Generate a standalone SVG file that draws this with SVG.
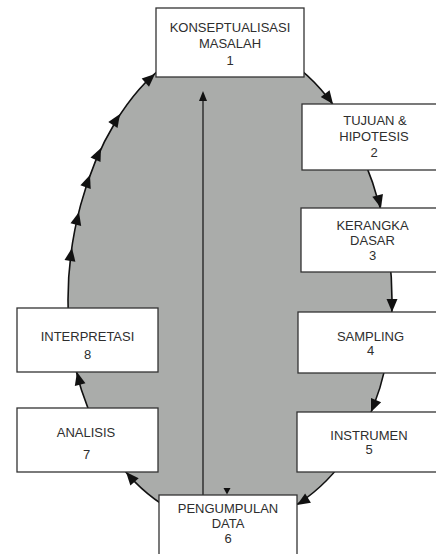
<svg xmlns="http://www.w3.org/2000/svg" width="436" height="554" viewBox="0 0 436 554">
<style>
.box{fill:#ffffff;stroke:#333333;stroke-width:1.3}
.lbl{font-family:"Liberation Sans",Arial,sans-serif;font-size:13px;fill:#2e2e2e;text-anchor:middle}
.ring{fill:#aaacaa;stroke:#111111;stroke-width:1.6}
.ln{stroke:#111111;stroke-width:1.2;fill:none}
.ah{fill:#111111}
</style>
<defs>
<path id="ah" d="M0,0 L-13,-5.5 L-13,5.5 Z"/>
<path id="ahs" d="M0,0 L-10,-4 L-10,4 Z"/>
</defs>
<rect width="436" height="554" fill="#ffffff"/>
<g id="connectors">
<path class="ring" d="M230,42 C320,42 392,170 392,300 C394,425 318,525 228,525 C146,525 68,430 68,300 C68,170 140,42 230,42 Z"/>
<line class="ln" x1="203" y1="495" x2="203" y2="96"/>
<use href="#ahs" class="ah" transform="translate(203,91) rotate(-90)"/>
<path class="ah" d="M223.5,488 L230.5,488 L227,494.5 Z"/>
<use href="#ah" class="ah" transform="translate(333,104) rotate(53)"/>
<use href="#ah" class="ah" transform="translate(381,208) rotate(75)"/>
<use href="#ah" class="ah" transform="translate(392,312) rotate(90)"/>
<use href="#ah" class="ah" transform="translate(371,412) rotate(113)"/>
<use href="#ah" class="ah" transform="translate(297,505) rotate(148)"/>
<use href="#ah" class="ah" transform="translate(126,472) rotate(-131)"/>
<use href="#ah" class="ah" transform="translate(77,372) rotate(-104)"/>
<use href="#ah" class="ah" transform="translate(72,248) rotate(-81)"/>
<use href="#ah" class="ah" transform="translate(79,212) rotate(-76)"/>
<use href="#ah" class="ah" transform="translate(90,175) rotate(-70)"/>
<use href="#ah" class="ah" transform="translate(101,148) rotate(-65)"/>
<use href="#ah" class="ah" transform="translate(120,114) rotate(-57)"/>
<use href="#ah" class="ah" transform="translate(155,74) rotate(-42)"/>
</g>
<g id="node1">
<rect class="box" x="156" y="8" width="148" height="69"/>
<text class="lbl" x="230" y="31.5">KONSEPTUALISASI</text>
<text class="lbl" x="230" y="47.5">MASALAH</text>
<text class="lbl" x="230" y="65">1</text>
</g>
<g id="node2">
<rect class="box" x="302" y="104" width="140" height="66"/>
<text class="lbl" x="375" y="125">TUJUAN &amp;</text>
<text class="lbl" x="374" y="140.5">HIPOTESIS</text>
<text class="lbl" x="374" y="157">2</text>
</g>
<g id="node3">
<rect class="box" x="301" y="208" width="141" height="64"/>
<text class="lbl" x="372.5" y="230">KERANGKA</text>
<text class="lbl" x="372.5" y="245">DASAR</text>
<text class="lbl" x="372.5" y="260">3</text>
</g>
<g id="node4">
<rect class="box" x="298" y="312" width="144" height="61"/>
<text class="lbl" x="370.5" y="340.5">SAMPLING</text>
<text class="lbl" x="370.5" y="355">4</text>
</g>
<g id="node5">
<rect class="box" x="297" y="412" width="145" height="60"/>
<text class="lbl" x="369" y="439.5">INSTRUMEN</text>
<text class="lbl" x="369" y="453.5">5</text>
</g>
<g id="node6">
<rect class="box" x="159" y="495" width="138" height="70"/>
<text class="lbl" x="228" y="512.5">PENGUMPULAN</text>
<text class="lbl" x="228" y="527.5">DATA</text>
<text class="lbl" x="228" y="542.5">6</text>
</g>
<g id="node7">
<rect class="box" x="17" y="408" width="141" height="64"/>
<text class="lbl" x="86" y="436.5">ANALISIS</text>
<text class="lbl" x="86.5" y="459">7</text>
</g>
<g id="node8">
<rect class="box" x="17" y="308" width="141" height="64"/>
<text class="lbl" x="87.5" y="340.5">INTERPRETASI</text>
<text class="lbl" x="87.5" y="359">8</text>
</g>
</svg>
